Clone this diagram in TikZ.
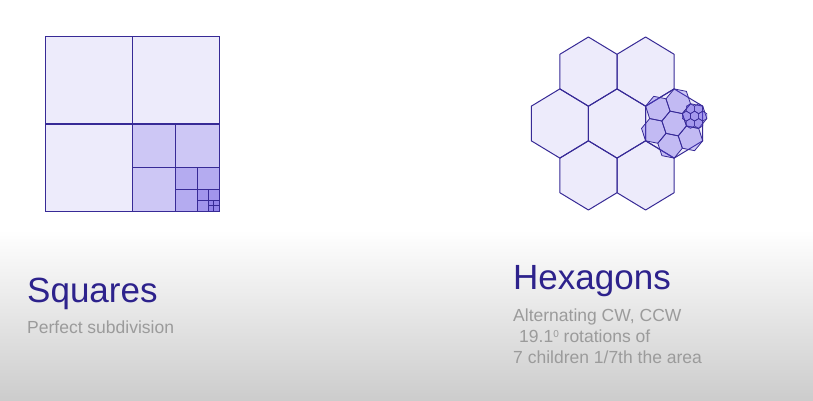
\documentclass[tikz,border=0pt]{standalone}
\usepackage{fontspec}
\setmainfont{Liberation Sans}
\usetikzlibrary{calc}

\definecolor{edgeblue}{RGB}{55,42,150}
\definecolor{cellfill}{RGB}{95,75,225}
\definecolor{titleblue}{RGB}{45,34,140}
\definecolor{notegray}{RGB}{155,155,155}

% hexagon: [style]{centre}{radius}{rotation}
\newcommand{\hexcell}[4][]{\filldraw[#1] (#2) +(30+#4:#3) -- +(90+#4:#3) -- +(150+#4:#3) -- +(210+#4:#3) -- +(270+#4:#3) -- +(330+#4:#3) -- cycle;}

\tikzset{
	sqcell/.style={draw=edgeblue, fill=cellfill},
	hexbig/.style={draw=edgeblue, fill=cellfill, fill opacity=.11, line width=1pt, line join=round},
	hexchild/.style={draw=edgeblue, fill=cellfill, fill opacity=.3, line width=.8pt, line join=round},
	hexgrand/.style={draw=edgeblue, fill=cellfill, fill opacity=.3, line width=.6pt, line join=round},
	title/.style={text=titleblue, font=\fontsize{35}{40}\selectfont, inner sep=0pt, anchor=base west},
	note/.style={text=notegray, font=\fontsize{17.5}{21}\selectfont, inner sep=0pt, anchor=base west, align=left}
}

\begin{document}
\begin{tikzpicture}[x=1pt, y=-1pt]
			\useasboundingbox (0,0) rectangle (813,401);
			\fill[white] (0,0) rectangle (813,401);
			\shade[top color=white, bottom color=gray!40] (0,230) rectangle (813,401);
			
			% squares
			\foreach \k in {0,...,4}{
				\pgfmathsetmacro{\s}{174/2^\k}
				\pgfmathsetmacro{\lw}{1-0.12*\k}
				\pgfmathsetmacro{\op}{\k==0 ? 0.11 : 0.22}
				\filldraw[sqcell, fill opacity=\op, line width=\lw pt] (219-\s,211-\s) rectangle (219,211);
				\draw[edgeblue, line width=\lw pt] (219-\s/2,211-\s) -- (219-\s/2,211) (219-\s,211-\s/2) -- (219,211-\s/2);
			}
			
			% hexagons
			\begin{scope}[shift={(617,123.5)}, x=33pt, y=-34.6pt]
				\hexcell[hexbig]{0,0}{1}{0}
				\foreach \a in {0,60,...,300}{
					\hexcell[hexbig]{\a:1.732}{1}{0}
				}
				\begin{scope}[shift={(0:1.732)}]
					\foreach \a in {0,60,...,300}{
						\hexcell[hexchild]{\a-19.1:0.6547}{0.378}{-19.1}
					}
					\hexcell[hexchild]{0,0}{0.378}{-19.1}
					\begin{scope}[shift={(-19.1:0.6547)}]
						\foreach \a in {0,60,...,300}{
							\hexcell[hexgrand]{\a:0.2474}{0.1429}{0}
						}
						\hexcell[hexgrand]{0,0}{0.1429}{0}
					\end{scope}
				\end{scope}
			\end{scope}
			
			\node[title] (sqtitle) at (27,302) {Squares};
			\node[note] (sqnote) at (27,333) {Perfect subdivision};
			\node[title] (hextitle) at (513,289) {Hexagons};
			\node[note] (hexnote) at (513,363) {Alternating CW, CCW\\\hspace{6pt}19.1{\fontsize{10}{10}\selectfont\raisebox{5pt}{0}} rotations of\\7 children 1/7th the area};
		\end{tikzpicture}
\end{document}
